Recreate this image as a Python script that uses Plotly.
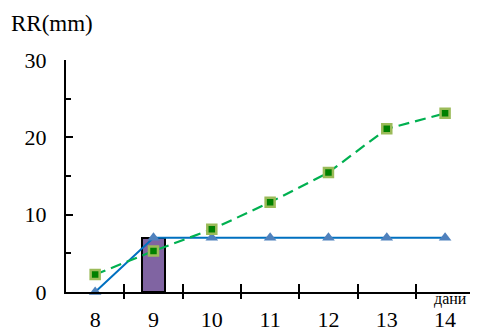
import plotly.graph_objects as go

days = [8, 9, 10, 11, 12, 13, 14]
day_labels = ["8", "9", "10", "11", "12", "13", "14"]
blue_values = [0, 7, 7, 7, 7, 7, 7]
green_values = [2.25, 5.3, 8.1, 11.6, 15.45, 21.1, 23.1]
bar_day = [9]
bar_value = [7]
y_ticks = [0, 10, 20, 30]
minor_y_ticks = [5, 15, 25]
boundary_ticks = [8.5, 9.5, 10.5, 11.5, 12.5, 13.5]

FONT = "Liberation Serif, Times New Roman, serif"
W, H = 470, 325  # page body has an 8px margin

fig = go.Figure()
fig.add_trace(go.Bar(
    x=bar_day, y=bar_value, width=0.4,
    marker=dict(color="#8064A2", line=dict(color="black", width=2)),
    showlegend=False,
))
fig.add_trace(go.Scatter(
    x=days, y=blue_values, mode="lines+markers",
    line=dict(color="#0070C0", width=2),
    marker=dict(symbol="triangle-up", size=11, color="#4F81BD"),
    cliponaxis=False, showlegend=False,
))
fig.add_trace(go.Scatter(
    x=days, y=green_values, mode="lines+markers",
    line=dict(color="#00B050", width=2.2, dash="11px,6px"),
    marker=dict(symbol="square", size=9, color="#008000",
                line=dict(color="#9BBB59", width=2.5)),
    cliponaxis=False, showlegend=False,
))
fig.add_trace(go.Scatter(x=[8], y=[None], xaxis="x2", showlegend=False, hoverinfo="skip"))
fig.add_trace(go.Scatter(x=[8], y=[None], xaxis="x3", showlegend=False, hoverinfo="skip"))

xrange = [7.5, 14.53]
fig.update_layout(
    width=W, height=H,
    margin=dict(l=58, r=2, t=52, b=41),
    plot_bgcolor="white", paper_bgcolor="white",
    font=dict(family=FONT, color="black", size=22),
    bargap=0,
    title=dict(text="RR(mm)", x=3/W, y=1-15/H, xanchor="left", yanchor="middle",
               xref="container", yref="container",
               font=dict(family=FONT, size=23, color="black")),
    xaxis=dict(
        range=xrange, tickvals=days, ticktext=day_labels, ticks="",
        showline=True, linecolor="black", linewidth=2, showgrid=False, zeroline=False,
        tickfont=dict(family=FONT, size=22), ticklabelstandoff=7,
    ),
    xaxis2=dict(
        range=xrange, overlaying="x", anchor="y", side="bottom",
        tickvals=boundary_ticks, ticks="outside", ticklen=6, tickwidth=2, tickcolor="black",
        showticklabels=False, showline=False, showgrid=False, zeroline=False,
    ),
    xaxis3=dict(
        range=xrange, overlaying="x", anchor="y", side="bottom",
        tickvals=boundary_ticks, ticks="inside", ticklen=8, tickwidth=2, tickcolor="black",
        showticklabels=False, showline=False, showgrid=False, zeroline=False,
    ),
    yaxis=dict(
        range=[0, 30], tickvals=y_ticks, ticks="inside", ticklen=7, tickwidth=2,
        tickcolor="black", showline=True, linecolor="black", linewidth=2,
        showgrid=False, zeroline=False,
        minor=dict(tickvals=minor_y_ticks, ticks="inside", ticklen=5, tickwidth=2, tickcolor="black"),
        tickfont=dict(family=FONT, size=22), ticklabelstandoff=13,
    ),
    annotations=[dict(
        text="дани", xref="paper", yref="paper", x=(450-66)/410, y=-0.03,
        xanchor="center", yanchor="middle", showarrow=False,
        font=dict(family=FONT, size=16, color="black"),
    )],
)

fig.write_html("out.html")
